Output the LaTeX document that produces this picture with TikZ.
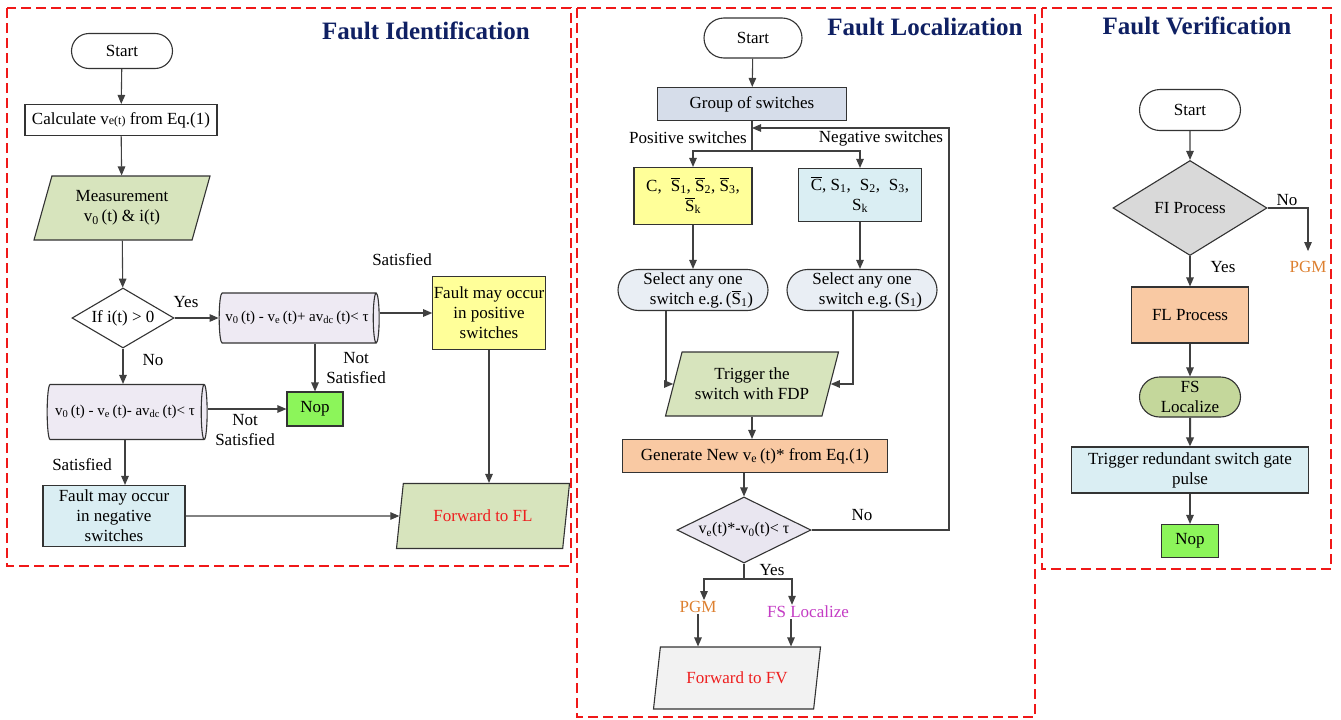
\documentclass[tikz,border=0pt]{standalone}
\usepackage{fontspec}
\setmainfont{Liberation Serif}
\usetikzlibrary{shapes.geometric,shapes.misc,arrows.meta}
\definecolor{yellowF}{HTML}{FFFF99}
\definecolor{blueF}{HTML}{DAEEF3}
\definecolor{greenF}{HTML}{D7E4BD}
\definecolor{lavF}{HTML}{EEEAF3}
\definecolor{nopF}{HTML}{8CF55A}
\definecolor{grpF}{HTML}{D6DDEA}
\definecolor{selF}{HTML}{E9EEF4}
\definecolor{peachF}{HTML}{F9C9A3}
\definecolor{decF}{HTML}{E9E6F0}
\definecolor{fiF}{HTML}{D9D9D9}
\definecolor{fsF}{HTML}{C4D79B}
\definecolor{fvF}{HTML}{F2F2F2}
\definecolor{navy}{HTML}{0F2063}
\definecolor{pgmC}{HTML}{DD8030}
\definecolor{fslC}{HTML}{C43CC4}
\definecolor{fwdC}{HTML}{EE1E1E}
\definecolor{panelC}{HTML}{F01818}
\newcommand{\ovl}[1]{$\overline{\mbox{#1}}$}
\newcommand{\sm}[1]{{\fontsize{12}{12}\selectfont #1}}
\begin{document}
\begin{tikzpicture}[x=1pt,y=-1pt,
  every node/.style={font=\fontsize{17}{20}\selectfont},
  box/.style={draw=black!80,line width=1.1pt,align=center,inner sep=1pt},
  term/.style={box,rounded rectangle},
  io/.style={box,trapezium,trapezium left angle=64,trapezium right angle=116,
    trapezium stretches body,inner xsep=0pt},
  dec/.style={box,diamond,inner sep=0pt},
  cyl/.style={box,cylinder,shape aspect=0.38,font=\fontsize{15}{17}\selectfont,
    cylinder uses custom fill,cylinder body fill=lavF,cylinder end fill=lavF},
  arr/.style={draw=black!75,line width=1.1pt,-{Triangle[length=9pt,width=7.5pt]}},
  lbl/.style={inner sep=1pt,align=center},
  ttl/.style={font=\bfseries\fontsize{25}{28}\selectfont,text=navy},
  panel/.style={draw=panelC,line width=2.2pt,dash pattern=on 10pt off 5pt}]
  \path[use as bounding box,fill=white] (0,0) rectangle (1341,720);
  \draw[panel] (7,8) rectangle (571,566);
  \draw[panel] (577,8) rectangle (1035,717);
  \draw[panel] (1042,8) rectangle (1331,569);
  \node[ttl] (t1) at (426,31) {Fault Identification};
  \node[ttl] (t2) at (925,27) {Fault Localization};
  \node[ttl] (t3) at (1197,26) {Fault Verification};

  % fault identification
  \node[term,minimum width=103pt,minimum height=35pt] (s1) at (122,51) {Start};
  \node[box,minimum width=192pt,minimum height=31pt] (calc) at (121,120) {Calculate v\sm{e(t)} from Eq.(1)};
  \node[io,fill=greenF,minimum width=176pt,minimum height=64pt] (meas) at (122,208) {Measurement\\v\textsubscript{0}\,(t) \& i(t)};
  \node[dec,fill=white,aspect=1.7,minimum width=102pt,minimum height=60pt] (d1) at (123,318) {If i(t) > 0};
  \node[cyl,minimum width=50pt,minimum height=160pt] (c1) at (297,318) {v\textsubscript{0}\,(t) - v\textsubscript{e}\,(t)+ av\textsubscript{dc}\,(t)< τ};
  \node[box,fill=yellowF,minimum width=112pt,minimum height=73pt] (pos) at (489,313) {Fault may occur\\in positive\\switches};
  \node[box,fill=nopF,minimum width=56pt,minimum height=34pt] (nop1) at (315,409) {Nop};
  \node[cyl,minimum width=55pt,minimum height=160pt] (c2) at (125,412) {v\textsubscript{0}\,(t) - v\textsubscript{e}\,(t)- av\textsubscript{dc}\,(t)< τ};
  \node[box,fill=blueF,minimum width=142pt,minimum height=61pt] (neg) at (114,516) {Fault may occur\\in negative\\switches};
  \node[io,fill=greenF,minimum width=173pt,minimum height=65pt,text=fwdC] (fl) at (483,516) {Forward to FL};
  \node[lbl] (yes1) at (186,302) {Yes};
  \node[lbl] (no1) at (153,360) {No};
  \node[lbl] (sat1) at (402,260) {Satisfied};
  \node[lbl] (ns1) at (356,368) {Not\\Satisfied};
  \node[lbl] (ns2) at (245,430) {Not\\Satisfied};
  \node[lbl] (sat2) at (82,465) {Satisfied};
  \draw[arr] (s1) -- (calc);
  \draw[arr] (calc) -- (meas);
  \draw[arr] (meas) -- (d1);
  \draw[arr] (d1) -- (c1);
  \draw[arr] (c1.east |- pos) -- (pos.west);
  \draw[arr] (c1.south -| nop1) -- (nop1.north);
  \draw[arr] (d1.south) -- (d1.south |- c2.north);
  \draw[arr] (c2.east |- nop1) -- (nop1.west);
  \draw[arr] (c2.south) -- (c2.south |- neg.north);
  \draw[arr] (neg.east) -- (fl.west);
  \draw[arr] (pos.south) -- (pos.south |- fl.north);

  % fault localization
  \node[term,minimum width=100pt,minimum height=40pt] (s2) at (753,38) {Start};
  \node[box,fill=grpF,minimum width=189pt,minimum height=33pt] (grp) at (752,104) {Group of switches};
  \node[lbl] (psw) at (688,138) {Positive switches};
  \node[lbl] (nsw) at (881,138) {Negative switches};
  \node[box,fill=yellowF,minimum width=118pt,minimum height=57pt] (pbox) at (693,196)
    {C,\; \ovl{S}\textsubscript{1}, \ovl{S}\textsubscript{2}, \ovl{S}\textsubscript{3},\\\ovl{S}\textsubscript{k}};
  \node[box,fill=blueF,minimum width=123pt,minimum height=53pt] (nbox) at (860,195)
    {\ovl{C}, S\textsubscript{1},\; S\textsubscript{2},\; S\textsubscript{3},\\S\textsubscript{k}};
  \node[term,fill=selF,minimum width=152pt,minimum height=41pt] (sel1) at (693,290) {Select any one\\\quad switch e.g.\,(\ovl{S}\textsubscript{1})};
  \node[term,fill=selF,minimum width=152pt,minimum height=41pt] (sel2) at (862,290) {Select any one\\\quad switch e.g.\,(S\textsubscript{1})};
  \node[io,fill=greenF,minimum width=173pt,minimum height=64pt] (trig) at (752,384) {Trigger the\\switch with FDP};
  \node[box,fill=peachF,minimum width=265pt,minimum height=33pt] (gen) at (755,456) {Generate New v\textsubscript{e}\,(t)* from Eq.(1)};
  \node[dec,fill=decF,aspect=2,minimum width=134pt,minimum height=66pt,font=\fontsize{16}{18}\selectfont] (chk) at (744,530) {v\textsubscript{e}(t)*-v\textsubscript{0}(t)< τ};
  \node[lbl] (no2) at (862,515) {No};
  \node[lbl] (yes2) at (772,570) {Yes};
  \node[lbl,text=pgmC] (pgm1) at (698,607) {PGM};
  \node[lbl,text=fslC] (fsl1) at (808,612) {FS Localize};
  \node[io,fill=fvF,minimum width=167pt,minimum height=62pt,text=fwdC] (fv) at (737,678) {Forward to FV};
  \coordinate (spl1) at (752,151);
  \coordinate (loop) at (949,128);
  \coordinate (spl2) at (744,579);
  \draw[arr] (s2) -- (grp);
  \draw[draw=black!75,line width=1.1pt] (grp.south) -- (spl1);
  \draw[arr] (spl1) -| (pbox.north);
  \draw[arr] (spl1) -| (nbox.north);
  \draw[arr] (pbox) -- (sel1);
  \draw[arr] (nbox.south) -- (nbox.south |- sel2.north);
  \draw[arr] ([xshift=-27pt]sel1.south) |- (trig.west);
  \draw[arr] ([xshift=-9pt]sel2.south) |- (trig.east);
  \draw[arr] (trig.south) -- (trig.south |- gen.north);
  \draw[arr] (gen.south -| chk) -- (chk.north);
  \draw[arr] (chk.east) -| (loop) -- (loop -| grp.south);
  \draw[draw=black!75,line width=1.1pt] (chk.south) -- (spl2);
  \draw[arr] (spl2) -| ([xshift=6pt]pgm1.north);
  \draw[arr] (spl2) -| ([xshift=-16pt]fsl1.north);
  \draw[arr] (pgm1.south) -- (pgm1.south |- fv.north);
  \draw[arr] ([xshift=-17pt]fsl1.south) -- ([xshift=-17pt]fsl1.south |- fv.north);

  % fault verification
  \node[term,minimum width=103pt,minimum height=41pt] (s3) at (1190,110) {Start};
  \node[dec,fill=fiF,aspect=1.6,minimum width=154pt,minimum height=95pt] (fi) at (1190,208) {FI Process};
  \node[lbl] (no3) at (1287,200) {No};
  \node[lbl,text=pgmC] (pgm2) at (1308,267) {PGM};
  \node[lbl] (yes3) at (1223,267) {Yes};
  \node[box,fill=peachF,minimum width=117pt,minimum height=56pt] (flp) at (1190,315) {FL Process};
  \node[term,fill=fsF,minimum width=103pt,minimum height=40pt] (fsl2) at (1190,397) {FS\\Localize};
  \node[box,fill=blueF,minimum width=237pt,minimum height=46pt] (trg) at (1190,470) {Trigger redundant switch gate\\pulse};
  \node[box,fill=nopF,minimum width=57pt,minimum height=33pt] (nop2) at (1190,541) {Nop};
  \draw[arr] (s3) -- (fi);
  \draw[arr] (fi.east) -| ([yshift=9pt]pgm2.north);
  \draw[arr] (fi) -- (flp);
  \draw[arr] (flp) -- (fsl2);
  \draw[arr,line width=2pt] (fsl2) -- (trg);
  \draw[arr] (trg) -- (nop2);
\end{tikzpicture}
\end{document}
